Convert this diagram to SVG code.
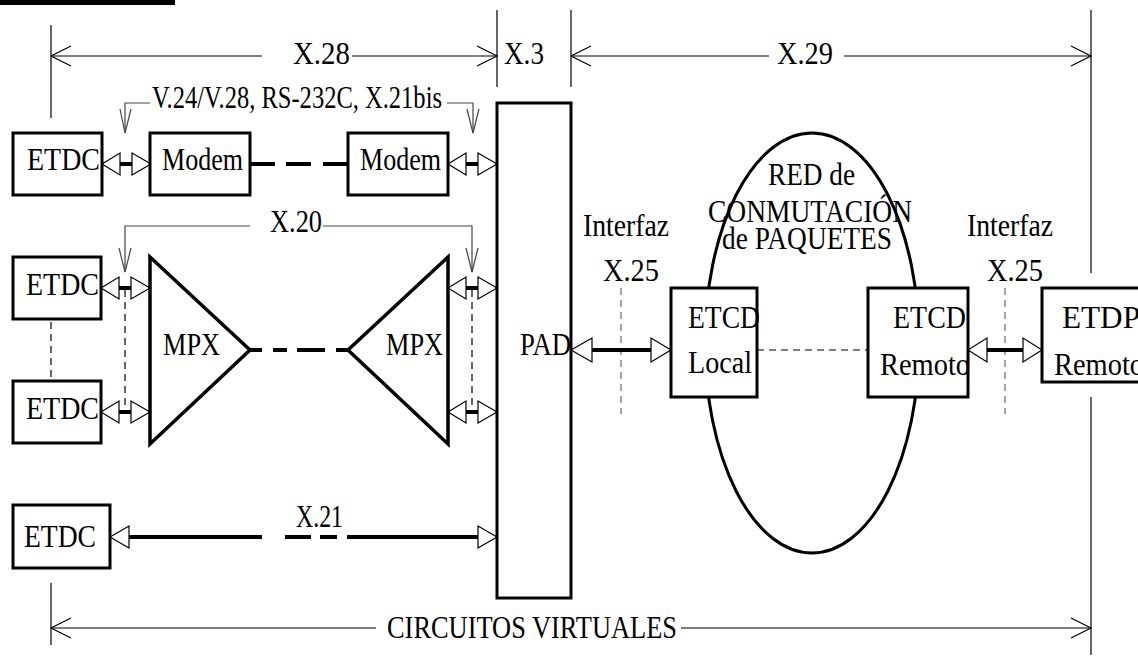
<svg xmlns="http://www.w3.org/2000/svg" width="1138" height="658" viewBox="0 0 1138 658">
<style>
.t{font-family:"Liberation Serif","Times New Roman",serif;font-size:31px;fill:#000}
.box{fill:#fff;stroke:#000;stroke-width:3}
.thin{fill:none;stroke:#000;stroke-width:1.2}
.call{fill:none;stroke:#444;stroke-width:1.2}
.dash{fill:none;stroke:#000;stroke-width:1.2;stroke-dasharray:7 5}
.gdash{fill:none;stroke:#666;stroke-width:1.2;stroke-dasharray:7 5}
.thick{fill:none;stroke:#000;stroke-width:4}
.tri{fill:#fff;stroke:#000;stroke-width:1.2}
</style>
<defs>
<g id="bi">
<line x1="18" y1="0" x2="30" y2="0" stroke="#000" stroke-width="4"/>
<polygon class="tri" points="0,0 18,-11 18,11"/>
<polygon class="tri" points="49,0 30,-11 30,11"/>
</g>
</defs>
<rect x="0" y="0" width="175" height="5" fill="#000"/>

<g id="red">
<ellipse cx="812" cy="343" rx="107" ry="210" fill="none" stroke="#000" stroke-width="3"/>
<text class="t" x="768" y="185" textLength="87" lengthAdjust="spacingAndGlyphs">RED de</text>
<text class="t" x="708" y="222" textLength="204" lengthAdjust="spacingAndGlyphs">CONMUTACIÓN</text>
<text class="t" x="722" y="249" textLength="170" lengthAdjust="spacingAndGlyphs">de PAQUETES</text>
</g>

<g id="connectors">
<line class="thin" x1="51" y1="25" x2="51" y2="118"/>
<line class="thin" x1="497" y1="10" x2="497" y2="87"/>
<line class="thin" x1="571" y1="10" x2="571" y2="87"/>
<line class="thin" x1="1091" y1="10" x2="1091" y2="273"/>
<line class="thin" x1="1091" y1="397" x2="1091" y2="655"/>
<line class="thin" x1="51" y1="583" x2="51" y2="645"/>
<line class="thin" x1="51" y1="56" x2="262" y2="56"/>
<line class="thin" x1="352" y1="56" x2="497" y2="56"/>
<line class="thin" x1="571" y1="56" x2="769" y2="56"/>
<line class="thin" x1="844" y1="56" x2="1091" y2="56"/>
<line class="thin" x1="51" y1="628" x2="376" y2="628"/>
<line class="thin" x1="681" y1="628" x2="1091" y2="628"/>
<polyline class="thin" points="71,46 51,56 71,66"/>
<polyline class="thin" points="477,46 497,56 477,66"/>
<polyline class="thin" points="591,46 571,56 591,66"/>
<polyline class="thin" points="1071,46 1091,56 1071,66"/>
<polyline class="thin" points="71,618 51,628 71,638"/>
<polyline class="thin" points="1071,618 1091,628 1071,638"/>
<polyline class="call" points="150,103 125,103 125,133"/>
<polyline class="call" points="120,109 125,133 131,109"/>
<polyline class="call" points="447,103 473,103 473,133"/>
<polyline class="call" points="467,109 473,133 479,109"/>
<polyline class="call" points="250,226 125,226 125,272"/>
<polyline class="call" points="119,248 125,272 131,248"/>
<polyline class="call" points="323,226 472,226 472,272"/>
<polyline class="call" points="466,248 472,272 478,248"/>
<line class="dash" x1="51" y1="322" x2="51" y2="378"/>
<line class="dash" x1="125" y1="290" x2="125" y2="412"/>
<line class="dash" x1="472" y1="290" x2="472" y2="412"/>
<line class="gdash" x1="621" y1="288" x2="621" y2="414"/>
<line class="gdash" x1="1005" y1="288" x2="1005" y2="414"/>
<line class="dash" x1="757" y1="350" x2="868" y2="350"/>
<use href="#bi" x="102" y="164"/>
<use href="#bi" x="448" y="164"/>
<path class="thick" d="M250 164H275M286 164H311M323 164H348"/>
<use href="#bi" x="101" y="288"/>
<use href="#bi" x="448" y="288"/>
<use href="#bi" x="101" y="412"/>
<use href="#bi" x="448" y="412"/>
<path class="thick" d="M250 350H262M273 350H287M297 350H325M336 350H348"/>
<path class="thick" d="M129 537H262M285 537H311M320 537H337M347 537H478"/>
<polygon class="tri" points="110,537 129,526 129,548"/>
<polygon class="tri" points="497,537 478,526 478,548"/>
<line class="thick" x1="592" y1="350" x2="651" y2="350"/>
<polygon class="tri" points="571,350 592,338 592,362"/>
<polygon class="tri" points="671,350 651,338 651,362"/>
<line class="thick" x1="987" y1="350" x2="1023" y2="350"/>
<polygon class="tri" points="968,350 987,338 987,362"/>
<polygon class="tri" points="1042,350 1023,338 1023,362"/>
</g>

<g id="labels">
<text class="t" x="293" y="64" textLength="57" lengthAdjust="spacingAndGlyphs">X.28</text>
<text class="t" x="504" y="64" textLength="40" lengthAdjust="spacingAndGlyphs">X.3</text>
<text class="t" x="777" y="64" textLength="56" lengthAdjust="spacingAndGlyphs">X.29</text>
<text class="t" x="152" y="108" textLength="290" lengthAdjust="spacingAndGlyphs">V.24/V.28, RS-232C, X.21bis</text>
<text class="t" x="270" y="232" textLength="52" lengthAdjust="spacingAndGlyphs">X.20</text>
<text class="t" x="296" y="527" textLength="47" lengthAdjust="spacingAndGlyphs">X.21</text>
<text class="t" x="583" y="236" textLength="86" lengthAdjust="spacingAndGlyphs">Interfaz</text>
<text class="t" x="603" y="281" textLength="56" lengthAdjust="spacingAndGlyphs">X.25</text>
<text class="t" x="967" y="236" textLength="86" lengthAdjust="spacingAndGlyphs">Interfaz</text>
<text class="t" x="987" y="281" textLength="56" lengthAdjust="spacingAndGlyphs">X.25</text>
<text class="t" x="387" y="638" textLength="290" lengthAdjust="spacingAndGlyphs">CIRCUITOS VIRTUALES</text>
</g>

<g id="etdc1"><rect class="box" x="13" y="133" width="89" height="62"/><text class="t" x="27" y="170" textLength="73" lengthAdjust="spacingAndGlyphs">ETDC</text></g>
<g id="modem1"><rect class="box" x="150" y="133" width="100" height="62"/><text class="t" x="162" y="170" textLength="81" lengthAdjust="spacingAndGlyphs">Modem</text></g>
<g id="modem2"><rect class="box" x="348" y="133" width="100" height="62"/><text class="t" x="360" y="170" textLength="81" lengthAdjust="spacingAndGlyphs">Modem</text></g>
<g id="etdc2"><rect class="box" x="13" y="257" width="88" height="62"/><text class="t" x="26" y="295" textLength="73" lengthAdjust="spacingAndGlyphs">ETDC</text></g>
<g id="etdc3"><rect class="box" x="13" y="381" width="88" height="62"/><text class="t" x="26" y="419" textLength="73" lengthAdjust="spacingAndGlyphs">ETDC</text></g>
<g id="etdc4"><rect class="box" x="13" y="505" width="97" height="63"/><text class="t" x="24" y="547" textLength="72" lengthAdjust="spacingAndGlyphs">ETDC</text></g>
<g id="mpx1"><polygon points="150,257 250,350 150,444" fill="#fff" stroke="#000" stroke-width="3.5"/><text class="t" x="163" y="355" textLength="57" lengthAdjust="spacingAndGlyphs">MPX</text></g>
<g id="mpx2"><polygon points="448,257 348,350 448,444" fill="#fff" stroke="#000" stroke-width="3.5"/><text class="t" x="386" y="355" textLength="57" lengthAdjust="spacingAndGlyphs">MPX</text></g>
<g id="pad"><rect x="497" y="103" width="74" height="495" fill="none" stroke="#000" stroke-width="3"/><text class="t" x="520" y="355" textLength="51" lengthAdjust="spacingAndGlyphs">PAD</text></g>
<g id="etcd-local"><rect class="box" x="671" y="288" width="86" height="109"/><text class="t" x="688" y="328" textLength="72" lengthAdjust="spacingAndGlyphs">ETCD</text><text class="t" x="688" y="373" textLength="64" lengthAdjust="spacingAndGlyphs">Local</text></g>
<g id="etcd-remoto"><rect class="box" x="868" y="288" width="100" height="109"/><text class="t" x="893" y="328" textLength="73" lengthAdjust="spacingAndGlyphs">ETCD</text><text class="t" x="880" y="375" textLength="90" lengthAdjust="spacingAndGlyphs">Remoto</text></g>
<g id="etdp-remoto"><rect class="box" x="1042" y="288" width="110" height="94"/><text class="t" x="1062" y="328" textLength="78" lengthAdjust="spacingAndGlyphs">ETDP</text><text class="t" x="1054" y="375" textLength="90" lengthAdjust="spacingAndGlyphs">Remoto</text></g>
</svg>
